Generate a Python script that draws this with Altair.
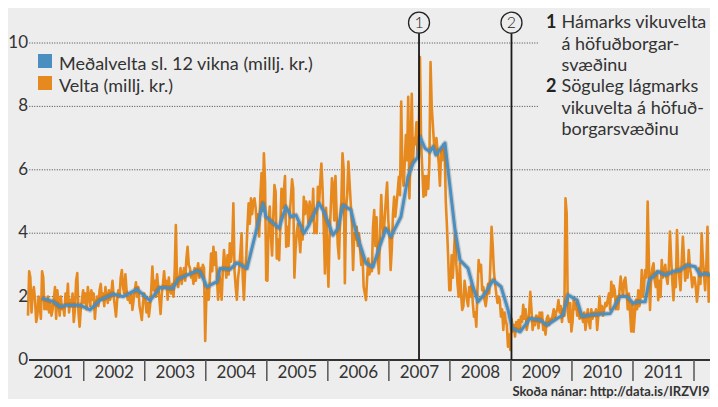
import altair as alt
import pandas as pd

# ---------------- data ----------------
# Weekly turnover, millj. kr. One list per year; 2001 starts at week 4.
velta_2001 = [1.4, 2.8, 2.6, 1.5, 2.1, 2.3, 1.9, 1.2, 1.4, 2.0, 1.7, 1.3, 2.8, 2.6, 1.6, 1.9,
              1.6, 2.0, 1.5, 1.8, 1.4, 1.6, 1.9, 2.3, 1.3, 2.2, 1.8, 1.4, 2.0, 1.6, 1.7, 1.4,
              2.1, 1.8, 2.4, 1.5, 1.9, 1.7, 2.1, 1.2, 1.6, 2.5, 2.74, 1.5, 1.05, 1.6, 1.9, 2.2]
velta_2002 = [1.8, 2.1, 1.6, 2.3, 2.0, 1.7, 2.2, 1.9, 2.1, 1.3, 1.8, 2.0, 1.7, 2.2, 2.4, 1.9,
              2.1, 1.7, 2.3, 2.0, 1.8, 2.2, 1.9, 2.1, 2.5, 2.0, 1.7, 1.37, 1.9, 2.2, 2.0, 2.6,
              2.84, 2.3, 2.1, 2.7, 2.2, 1.9, 2.0, 1.8, 2.1, 1.58, 1.9, 2.2, 2.45, 2.0, 2.3, 1.7,
              1.5, 1.26, 1.8, 2.1]
velta_2003 = [1.9, 1.5, 1.8, 1.37, 1.7, 2.2, 2.95, 2.2, 2.5, 2.0, 2.7, 2.3, 1.9, 1.45, 2.1, 2.4,
              2.8, 2.3, 2.5, 1.9, 2.6, 2.2, 2.1, 2.4, 2.0, 2.8, 4.26, 2.5, 2.3, 2.6, 2.9, 2.4,
              2.7, 2.9, 2.5, 3.2, 3.57, 3.0, 2.9, 2.6, 2.7, 2.4, 2.9, 2.5, 2.8, 3.05, 2.6, 2.9,
              2.7, 3.0, 2.9, 0.6]
velta_2004 = [2.0, 2.3, 1.9, 2.6, 3.36, 2.8, 3.57, 3.0, 3.4, 2.6, 1.9, 2.7, 2.4, 1.9, 2.8, 3.47,
              3.0, 2.6, 3.3, 2.7, 3.68, 3.1, 3.5, 4.94, 2.8, 2.3, 1.9, 2.6, 2.9, 3.4, 4.0, 2.6,
              1.9, 2.8, 3.3, 4.2, 4.94, 4.3, 5.1, 4.6, 5.0, 5.1, 4.8, 4.2, 4.6, 3.9, 5.2, 5.9,
              4.7, 6.52, 5.6, 2.52]
velta_2005 = [2.5, 4.3, 4.84, 3.9, 3.3, 4.5, 5.52, 5.3, 3.2, 3.8, 3.15, 4.2, 5.4, 4.8, 5.3, 5.8,
              3.57, 4.2, 3.6, 4.6, 5.1, 5.7, 5.4, 2.6, 3.5, 4.0, 4.3, 3.9, 3.4, 4.2, 3.8, 5.15,
              4.6, 5.0, 4.8, 4.3, 5.0, 4.6, 4.4, 5.4, 4.0, 4.3, 4.0, 5.46, 4.9, 5.6, 6.2, 5.4,
              4.2, 2.73, 4.8, 3.4]
velta_2006 = [2.31, 3.9, 4.8, 5.73, 5.5, 4.4, 5.8, 4.6, 3.6, 3.2, 4.5, 5.0, 6.52, 6.0, 2.42, 4.8,
              5.2, 6.26, 5.6, 4.94, 4.3, 2.84, 4.0, 3.8, 4.2, 3.6, 4.0, 3.5, 3.0, 3.4, 2.31, 2.1,
              1.89, 2.6, 3.2, 2.7, 3.0, 2.8, 4.2, 4.73, 3.6, 4.5, 3.2, 2.73, 4.0, 5.2, 4.3, 3.9,
              4.5, 5.1, 5.6, 4.4]
velta_2007 = [3.9, 2.84, 3.5, 4.6, 5.15, 4.52, 4.9, 5.3, 5.78, 5.2, 8.15, 6.0, 5.5, 6.2, 7.1, 6.3,
              8.3, 5.1, 6.6, 8.4, 6.2, 7.0, 6.8, 7.5, 6.4, 7.2, 9.56, 6.8, 6.0, 5.15, 5.8, 5.2,
              5.8, 5.4, 6.2, 9.4, 8.0, 7.4, 6.8, 6.5, 7.0, 6.6, 6.2, 5.5, 6.6, 6.3, 6.8, 6.6,
              5.0, 4.2, 3.26, 2.2]
velta_2008 = [2.2, 3.3, 2.6, 3.4, 4.1, 3.0, 2.4, 2.0, 3.05, 2.1, 1.58, 1.7, 2.5, 2.2, 1.9, 1.7,
              2.3, 2.0, 2.4, 1.8, 1.37, 1.5, 1.05, 2.2, 3.15, 2.8, 3.0, 2.2, 2.3, 1.9, 1.7, 2.0,
              2.4, 2.1, 3.0, 4.2, 3.6, 2.8, 2.4, 2.1, 1.8, 2.0, 1.9, 1.37, 1.6, 0.95, 1.5, 1.26,
              1.1, 0.42, 0.8, 0.32]
velta_2009 = [1.3, 0.9, 1.1, 0.74, 1.2, 1.0, 1.26, 0.9, 1.37, 1.2, 1.74, 1.3, 1.6, 0.95, 1.2, 1.5,
              2.15, 1.6, 0.95, 1.3, 1.1, 1.4, 1.37, 1.0, 1.5, 1.2, 1.5, 0.95, 1.1, 0.8, 1.3, 1.4,
              1.1, 1.3, 1.2, 1.4, 1.6, 1.3, 1.5, 1.6, 1.89, 1.5, 1.7, 1.2, 1.6, 1.4, 5.1, 4.63,
              1.5, 1.2, 1.8, 0.9]
velta_2010 = [1.2, 1.9, 1.6, 1.8, 1.4, 1.6, 1.3, 1.5, 1.4, 1.2, 1.5, 0.95, 1.3, 1.6, 1.2, 1.0,
              1.6, 1.3, 1.5, 1.4, 1.6, 0.95, 1.4, 2.0, 1.5, 1.7, 1.4, 1.6, 1.8, 1.7, 1.9, 2.1,
              1.6, 2.47, 2.0, 2.35, 2.2, 1.6, 2.0, 1.6, 2.2, 2.63, 2.3, 2.0, 2.5, 2.6, 2.2, 1.6,
              2.1, 1.5, 0.9, 1.8]
velta_2011 = [0.89, 1.4, 1.9, 1.6, 2.2, 1.7, 2.0, 2.84, 2.0, 2.4, 2.84, 2.6, 5.0, 3.2, 1.58, 2.6,
              2.9, 3.05, 2.5, 2.3, 2.8, 1.89, 2.5, 2.0, 3.15, 2.6, 2.8, 3.0, 2.6, 2.4, 2.9, 4.05,
              3.2, 2.5, 1.89, 2.7, 2.3, 4.1, 3.0, 2.6, 2.2, 3.1, 3.89, 3.2, 2.5, 3.0, 2.6, 3.47,
              2.9, 2.7, 2.3, 2.6]
velta_2012 = [2.6, 2.3, 1.84, 2.2, 2.9, 2.4, 4.0, 3.2, 2.7, 2.2, 3.0, 4.2, 1.84, 2.6, 2.2]

# 12-week average, read at points along the blue line (time in years)
avg_t = [2001.311, 2001.501, 2001.611, 2001.726, 2001.939,
         2002.103, 2002.267, 2002.480, 2002.643, 2002.873,
         2003.086, 2003.250, 2003.463, 2003.545, 2003.856, 2003.905,
         2004.020, 2004.184, 2004.233, 2004.397, 2004.511, 2004.675, 2004.937, 2004.986,
         2005.200, 2005.314, 2005.396, 2005.478, 2005.609, 2005.691, 2005.855, 2005.937,
         2006.084, 2006.166, 2006.248, 2006.379, 2006.461, 2006.625, 2006.740, 2006.838, 2006.953,
         2007.034, 2007.198, 2007.313, 2007.395, 2007.477, 2007.510, 2007.592, 2007.674, 2007.723,
         2007.772, 2007.854, 2007.920, 2007.969,
         2008.084, 2008.166, 2008.297, 2008.379, 2008.461, 2008.576, 2008.707, 2008.838, 2008.953,
         2009.019, 2009.150, 2009.314, 2009.478, 2009.592, 2009.756, 2009.854, 2009.936,
         2010.084, 2010.166, 2010.297, 2010.625, 2010.789, 2010.904,
         2011.002, 2011.084, 2011.199, 2011.265, 2011.412, 2011.527, 2011.658, 2011.773, 2011.888,
         2012.019, 2012.101, 2012.183, 2012.265]
avg_v = [1.95, 1.84, 1.68, 1.73, 1.73,
         1.58, 1.89, 2.08, 2.0, 2.23,
         1.87, 2.29, 2.26, 2.55, 2.82, 2.79,
         2.31, 2.47, 2.89, 2.86, 3.07, 2.89, 4.94, 4.52,
         4.16, 4.84, 4.52, 4.57, 4.0, 4.26, 4.94, 4.68,
         3.94, 4.15, 4.89, 4.73, 4.05, 3.05, 2.94, 3.52, 4.15,
         3.89, 4.52, 5.78, 6.2, 6.41, 7.04, 6.68, 6.57, 6.73,
         6.47, 6.68, 6.84, 6.0,
         4.1, 3.15, 2.89, 2.31, 1.84, 2.1, 2.52, 2.31, 1.58,
         1.0, 0.89, 1.31, 1.26, 1.1, 1.31, 1.42, 2.05,
         1.89, 1.37, 1.42, 1.47, 2.0, 2.0,
         1.79, 1.84, 1.84, 2.52, 2.79, 2.68, 2.79, 2.84, 3.0,
         2.94, 2.68, 2.73, 2.68]

year_labels = [2001, 2002, 2003, 2004, 2005, 2006, 2007, 2008, 2009, 2010, 2011]
separator_years = [2002, 2003, 2004, 2005, 2006, 2007, 2008, 2009, 2010, 2011, 2012]
y_ticks = [0, 2, 4, 6, 8, 10]
legend_labels = ["Meðalvelta sl. 12 vikna (millj. kr.)", "Velta (millj. kr.)"]
marker_t = [2007.494, 2009.009]
marker_labels = ["1", "2"]
note_numbers = ["1", "2"]
note_lines = ["Hámarks vikuvelta", "á höfuðborgar-", "svæðinu",
              "Söguleg lágmarks", "vikuvelta á höfuð-", "borgarsvæðinu"]
source_text = "Skoða nánar: http://data.is/IRZVI9"

# ---------------- build tables ----------------
rows = []
for year, vals, start in [(2001, velta_2001, 4), (2002, velta_2002, 0), (2003, velta_2003, 0),
                          (2004, velta_2004, 0), (2005, velta_2005, 0), (2006, velta_2006, 0),
                          (2007, velta_2007, 0), (2008, velta_2008, 0), (2009, velta_2009, 0),
                          (2010, velta_2010, 0), (2011, velta_2011, 0), (2012, velta_2012, 0)]:
    for i, v in enumerate(vals):
        rows.append({"t": year + (start + i + 0.5) / 52.0, "v": v})
velta_df = pd.DataFrame(rows)
avg_df = pd.DataFrame({"t": avg_t, "v": avg_v})

X0, X1 = 2001.054, 2012.262
GRID_START = 2001.108
GRID_CUT = 2009.443
xs = alt.Scale(domain=[X0, X1], nice=False, zero=False)
ys = alt.Scale(domain=[0, 10], nice=False, zero=True)

FONT = "Lato"
TXT = "#333333"
ORANGE = "#e6891e"
BLUE = "#4b8fc1"
W, H = 684, 317

grid_df = pd.DataFrame({"g": [2, 4, 6, 8, 10],
                        "x0": [GRID_START] * 5,
                        "x1": [X1 if g < 8 else GRID_CUT for g in [2, 4, 6, 8, 10]]})
grid = alt.Chart(grid_df).mark_rule(color="#444444", strokeWidth=1, strokeDash=[1, 1.5]).encode(
    x=alt.X("x0:Q", scale=xs, axis=None), x2="x1:Q",
    y=alt.Y("g:Q", scale=ys, axis=None))

velta_line = alt.Chart(velta_df).mark_line(color=ORANGE, strokeWidth=2.6, strokeJoin="round").encode(
    x=alt.X("t:Q", scale=xs, axis=None), y=alt.Y("v:Q", scale=ys, axis=None))

avg_shadow = alt.Chart(avg_df).mark_line(color="#3a3a3a", strokeWidth=5.5, opacity=0.2,
                                         strokeJoin="round").encode(
    x=alt.X("t:Q", scale=xs, axis=None), y=alt.Y("v:Q", scale=ys, axis=None))
avg_line = alt.Chart(avg_df).mark_line(color=BLUE, strokeWidth=3, strokeJoin="round").encode(
    x=alt.X("t:Q", scale=xs, axis=None), y=alt.Y("v:Q", scale=ys, axis=None))

one = pd.DataFrame({"k": [0]})
zero_axis = alt.Chart(one).mark_rule(color="#333333", strokeWidth=2).encode(
    x=alt.value(3), x2=alt.value(W), y=alt.value(H))

sep_df = pd.DataFrame({"yr": separator_years})
seps = alt.Chart(sep_df).mark_rule(color="#555555", strokeWidth=1.5).encode(
    x=alt.X("yr:Q", scale=xs, axis=None), y=alt.value(H), y2=alt.value(H + 21))

yl_df = pd.DataFrame({"mid": [y + 0.5 for y in year_labels], "lab": [str(y) for y in year_labels]})
year_text = alt.Chart(yl_df).mark_text(font=FONT, fontSize=17, color=TXT, align="center",
                                       baseline="alphabetic").encode(
    x=alt.X("mid:Q", scale=xs, axis=None), y=alt.value(H + 18.3), text="lab:N")

yt_df = pd.DataFrame({"g": y_ticks, "lab": [str(v) for v in y_ticks]})
y_text = alt.Chart(yt_df).mark_text(font=FONT, fontSize=17, color=TXT, align="right",
                                    baseline="middle").encode(
    x=alt.value(2), y=alt.Y("g:Q", scale=ys, axis=None), text="lab:N")

mk_df = pd.DataFrame({"t": marker_t, "n": marker_labels})
mk_lines = alt.Chart(mk_df).mark_rule(color="#1a1a1a", strokeWidth=1.8).encode(
    x=alt.X("t:Q", scale=xs, axis=None), y=alt.value(-9.8), y2=alt.value(H))
mk_circles = alt.Chart(mk_df).mark_point(shape="circle", size=441, filled=False, color="#222222",
                                         strokeWidth=1.3, opacity=1).encode(
    x=alt.X("t:Q", scale=xs, axis=None), y=alt.value(-20.3))
mk_text = alt.Chart(mk_df).mark_text(font=FONT, fontSize=16, fontWeight=300, color="#222222",
                                     align="center", baseline="middle").encode(
    x=alt.X("t:Q", scale=xs, axis=None), y=alt.value(-20.0), text="n:N")

lg_df = pd.DataFrame({"lab": legend_labels, "c": [BLUE, ORANGE], "yy": [18.0, 40.0], "yb": [27.0, 48.7]})
lg_sq = alt.Chart(lg_df).mark_square(size=196, opacity=1).encode(
    x=alt.value(19), y=alt.Y("yy:Q", scale=None), color=alt.Color("c:N", scale=None))
lg_tx = alt.Chart(lg_df).mark_text(font=FONT, fontSize=18, color=TXT, align="left",
                                   baseline="alphabetic").encode(
    x=alt.value(33), y=alt.Y("yb:Q", scale=None), text="lab:N")

nn_df = pd.DataFrame({"n": note_numbers, "yb": [-14.7, 49.3]})
note_num = alt.Chart(nn_df).mark_text(font=FONT, fontSize=18, fontWeight="bold", color="#222222",
                                      align="left", baseline="alphabetic").encode(
    x=alt.value(520), y=alt.Y("yb:Q", scale=None), text="n:N")
nl_df = pd.DataFrame({"s": note_lines, "yb": [-14.7, 6.6, 28.0, 49.3, 70.6, 92.0]})
note_txt = alt.Chart(nl_df).mark_text(font=FONT, fontSize=18, color=TXT, align="left",
                                      baseline="alphabetic").encode(
    x=alt.value(535.5), y=alt.Y("yb:Q", scale=None), text="s:N")

src = alt.Chart(pd.DataFrame({"s": [source_text]})).mark_text(
    font=FONT, fontSize=13, fontWeight="bold", color="#333333", align="right",
    baseline="alphabetic").encode(x=alt.value(W - 0.5), y=alt.value(353), text="s:N")

chart = alt.layer(
    grid, velta_line, avg_shadow, avg_line, zero_axis, seps, year_text, y_text,
    mk_lines, mk_circles, mk_text, lg_sq, lg_tx, note_num, note_txt, src
).properties(
    width=W, height=H,
    padding={"left": 18, "top": 35, "right": 0, "bottom": 39},
    autosize=alt.AutoSizeParams(type="none"),
    background="#ededed",
).configure_view(stroke=None)

chart.save("out.html", embed_options={"renderer": "svg", "actions": False})
